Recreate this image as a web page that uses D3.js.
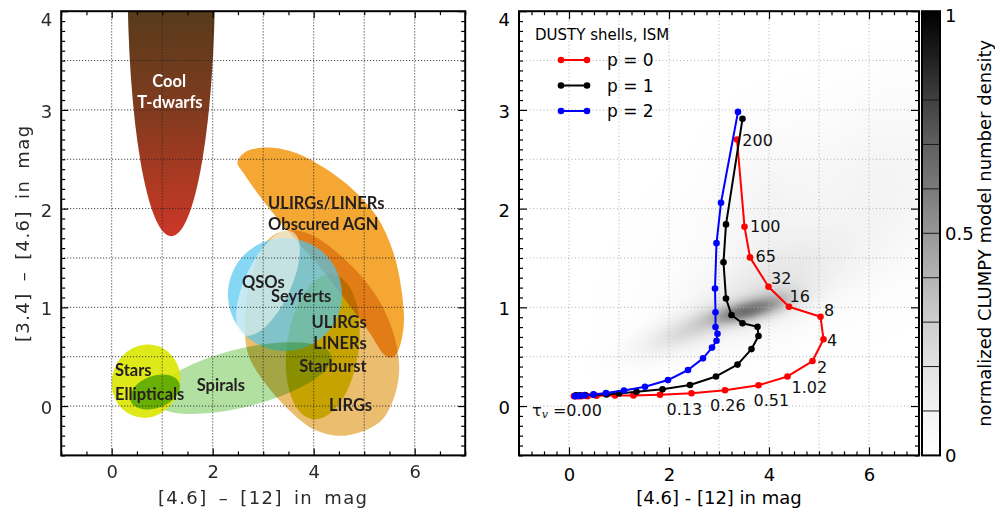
<!DOCTYPE html>
<html>
<head>
<meta charset="utf-8">
<script src="https://cdn.jsdelivr.net/npm/d3@7"></script>
<style>
  html, body { margin: 0; padding: 0; background: #fff; }
  svg { display: block; }
</style>
</head>
<body>
<svg id="chart" width="995" height="514"></svg>
<script>
// ---------------- data ----------------
const xTickValues = [0, 2, 4, 6];
const yTickValues = [0, 1, 2, 3, 4];
const colorbarTicks = [0, 0.5, 1];

// WISE colour-colour regions as ellipses: centre (mag), radii (mag along x / y before rotation), rotation (deg)
const dwarfRegion = { cx: 1.18, cy: 4.32, rx: 0.865, ry: 2.6, rot: 0 };
const starburstRegion = { cx: 4.18, cy: 0.60, rx: 0.713, ry: 0.74, rot: 8 };
const qsoRegion = { cx: 3.43, cy: 1.13, rx: 1.129, ry: 0.572, rot: 0 };
const seyfertRegion = { cx: 3.095, cy: 1.246, rx: 1.129, ry: 0.233, rot: -65 };
const spiralRegion = { cx: 2.58, cy: 0.284, rx: 1.82, ry: 0.294, rot: -14 };
const starRegion = { cx: 0.68, cy: 0.253, rx: 0.673, ry: 0.375, rot: 20 };
const ellipticalRegion = { cx: 0.857, cy: 0.142, rx: 0.515, ry: 0.162, rot: -20 };

// Outlines of the two irregular regions (mag, mag)
const agnOutline = [[2.49,2.47],[2.67,2.58],[3.07,2.62],[3.55,2.58],[4.06,2.46],[4.72,2.22],[5.25,1.92],
  [5.58,1.55],[5.74,1.17],[5.78,0.80],[5.64,0.53],[5.51,0.49],[5.38,0.53],[5.11,0.74],[4.72,1.01],
  [4.12,1.41],[3.53,1.75],[2.94,2.12],[2.61,2.36]];
const lirgOutline = [[3.53,1.78],[3.93,1.74],[4.52,1.53],[5.11,1.21],[5.47,0.89],[5.65,0.59],[5.69,0.33],
  [5.55,0.03],[5.29,-0.17],[4.62,-0.30],[4.02,-0.24],[3.51,-0.04],[3.04,0.23],[2.72,0.50],[2.64,0.74],
  [2.70,1.18],[2.98,1.60],[3.20,1.73]];

// Region labels: text, anchor position (mag), alignment, colour
const regionLabels = [
  ["Cool", 1.137, 3.29, "middle", "#fff"],
  ["T-dwarfs", 1.154, 3.083, "middle", "#fff"],
  ["ULIRGs/LINERs", 3.097, 2.054, "start", "#231f20"],
  ["Obscured AGN", 3.097, 1.844, "start", "#231f20"],
  ["QSOs", 2.58, 1.259, "start", "#231f20"],
  ["Seyferts", 3.155, 1.114, "start", "#231f20"],
  ["ULIRGs", 5.05, 0.854, "end", "#231f20"],
  ["LINERs", 5.05, 0.635, "end", "#231f20"],
  ["Starburst", 5.05, 0.408, "end", "#231f20"],
  ["LIRGs", 4.303, 0.01, "start", "#231f20"],
  ["Stars", 0.065, 0.365, "start", "#231f20"],
  ["Ellipticals", 0.065, 0.122, "start", "#231f20"],
  ["Spirals", 1.683, 0.213, "start", "#231f20"]
];

// DUSTY shell tracks ([4.6]-[12], [3.4]-[4.6]) for increasing optical depth
const trackP0 = [[0.10,0.10],[0.14,0.10],[0.19,0.10],[0.25,0.10],[0.37,0.10],[0.55,0.105],[0.92,0.108],
  [1.29,0.108],[1.82,0.115],[2.45,0.13],[3.12,0.16],[3.79,0.21],[4.37,0.30],[4.87,0.456],[5.09,0.676],
  [5.03,0.905],[4.40,1.006],[3.99,1.209],[3.62,1.506],[3.51,1.817],[3.36,2.70]];
const trackP1 = [[0.14,0.108],[0.22,0.108],[0.32,0.111],[0.49,0.115],[0.75,0.118],[1.0,0.128],[1.35,0.145],
  [1.87,0.169],[2.42,0.213],[2.94,0.30],[3.37,0.42],[3.65,0.577],[3.79,0.709],[3.77,0.804],[3.47,0.838],
  [3.25,0.922],[3.14,1.09],[3.09,1.456],[3.14,1.84],[3.47,2.91]];
const trackP2 = [[0.12,0.10],[0.20,0.103],[0.30,0.108],[0.49,0.118],[0.74,0.132],[1.10,0.157],[1.52,0.196],
  [1.98,0.263],[2.38,0.365],[2.68,0.483],[2.86,0.592],[2.95,0.662],[2.97,0.733],[2.93,0.80],[2.93,0.95],
  [2.92,1.19],[2.95,1.65],[3.04,2.06],[3.38,2.98]];
const trackNames = ["p = 0", "p = 1", "p = 2"];
const trackColors = ["#ff0000", "#000000", "#0000ff"];

// optical depth labels on the p = 0 track: index of point, text
const tauLabels = [[9,"0.13"],[10,"0.26"],[11,"0.51"],[12,"1.02"],[13,"2"],[14,"4"],[15,"8"],
  [16,"16"],[17,"32"],[18,"65"],[19,"100"],[20,"200"]];
// pixel offsets of those labels from their points (left edge, vertical centre)
const tauLabelOffsets = [[-25,16],[-15,15.5],[-5,15.4],[4,11],[4.5,6],[3.5,1],[3.5,-6],
  [0.5,-10],[2.5,-8.4],[5.5,-1.3],[5.5,0],[5.3,0.5]];

// CLUMPY model number density as a sum of Gaussian components:
// centre x, centre y (mag), sigma major (x-mag), sigma minor (y-mag), angle (deg), weight
const densityComponents = [
  [3.45, 0.95, 0.45, 0.075, -12, 0.36],
  [4.05, 1.05, 0.45, 0.085, -15, 0.22],
  [2.40, 0.78, 0.75, 0.110, -22, 0.20],
  [4.00, 1.20, 1.20, 0.250, -25, 0.13],
  [5.00, 1.90, 2.30, 0.600, -30, 0.06],
  [3.90, 2.10, 0.60, 0.500, 0, 0.04],
  [6.50, 2.30, 1.00, 0.600, 0, 0.04]
];

// ---------------- layout ----------------
const svg = d3.select("#chart");
const xL = d3.scaleLinear().domain([-1, 7]).range([61.2, 465.2]);
const yL = d3.scaleLinear().domain([-0.5, 4]).range([455.4, 11.2]);
const xR = d3.scaleLinear().domain([-1, 7]).range([519, 919]);
const yR = yL.copy();
const cbar = { x: 922, w: 18 };
const cScale = d3.scaleLinear().domain([0, 1]).range([455.4, 11.2]);

const defs = svg.append("defs");

// ---------------- left panel ----------------
defs.append("clipPath").attr("id", "clipL").append("rect")
  .attr("x", xL.range()[0]).attr("y", yL.range()[1])
  .attr("width", xL.range()[1] - xL.range()[0]).attr("height", yL.range()[0] - yL.range()[1]);

const dwarfGrad = defs.append("linearGradient").attr("id", "dwarfGrad")
  .attr("gradientUnits", "userSpaceOnUse")
  .attr("x1", 0).attr("x2", 0).attr("y1", yL(4)).attr("y2", yL(1.72));
[[0, "#573b1b"], [0.45, "#823b1f"], [0.8, "#b23923"], [1, "#cc3628"]].forEach(s =>
  dwarfGrad.append("stop").attr("offset", s[0]).attr("stop-color", s[1]));

const gL = svg.append("g").attr("clip-path", "url(#clipL)");

function addEllipse(g, e, xs, ys) {
  const cx = xs(e.cx), cy = ys(e.cy);
  return g.append("ellipse")
    .attr("cx", cx).attr("cy", cy)
    .attr("rx", e.rx * (xs(1) - xs(0)))
    .attr("ry", e.ry * (ys(0) - ys(1)))
    .attr("transform", `rotate(${e.rot},${cx},${cy})`);
}
const outline = d3.line().x(d => xL(d[0])).y(d => yL(d[1])).curve(d3.curveCatmullRomClosed.alpha(0.5));

gL.append("path").attr("d", outline(lirgOutline)).attr("fill", "#ebbd6e");
addEllipse(gL, starburstRegion, xL, yL).attr("fill", "#d7dc00").style("mix-blend-mode", "multiply");
gL.append("path").attr("d", outline(agnOutline)).attr("fill", "#f5a733").style("mix-blend-mode", "multiply");
addEllipse(gL, qsoRegion, xL, yL).attr("fill", "#52c6ee").attr("fill-opacity", 0.7);
addEllipse(gL, seyfertRegion, xL, yL).attr("fill", "#f2f6f4").attr("fill-opacity", 0.6);
addEllipse(gL, spiralRegion, xL, yL).attr("fill", "#b2e0a0").style("mix-blend-mode", "multiply");
addEllipse(gL, starRegion, xL, yL).attr("fill", "#dce600").attr("fill-opacity", 0.9);
addEllipse(gL, ellipticalRegion, xL, yL).attr("fill", "#4ba000").attr("fill-opacity", 0.8);
addEllipse(gL, dwarfRegion, xL, yL).attr("fill", "url(#dwarfGrad)");

// dotted grid
const gridL = svg.append("g").attr("stroke", "#222").attr("stroke-width", 1).attr("stroke-dasharray", "1,2");
d3.range(0, 7).forEach(v => gridL.append("line")
  .attr("x1", xL(v)).attr("x2", xL(v)).attr("y1", yL.range()[0]).attr("y2", yL.range()[1]));
d3.range(0, 4, 0.5).forEach(v => gridL.append("line")
  .attr("y1", yL(v)).attr("y2", yL(v)).attr("x1", xL.range()[0]).attr("x2", xL.range()[1]));

svg.append("g").selectAll("text").data(regionLabels).join("text")
  .attr("x", d => xL(d[1])).attr("y", d => yL(d[2]))
  .attr("text-anchor", d => d[3]).attr("dominant-baseline", "central")
  .attr("fill", d => d[4])
  .style("font-family", "Lato, 'Open Sans', sans-serif").style("font-weight", 700).style("font-size", "16.5px")
  .text(d => d[0]);

// axes with inward ticks on all four sides
function frameAxes(xs, ys, opts) {
  const [x0, x1] = xs.range(), [y0, y1] = ys.range();
  const g = svg.append("g");
  const minorX = d3.range(-1, 7.001, opts.xMinor).filter(v => !xTickValues.includes(+v.toFixed(3)));
  const minorY = d3.range(-0.5, 4.001, 0.1).filter(v => Math.abs(v - Math.round(v)) > 1e-6);
  const style = sel => { sel.select(".domain").remove(); sel.selectAll("line").attr("stroke", "#000").attr("stroke-width", opts.tickW); };
  g.append("g").attr("transform", `translate(0,${y0})`).call(d3.axisBottom(xs).tickValues(minorX).tickSize(-opts.minor).tickFormat("")).call(style);
  g.append("g").attr("transform", `translate(0,${y1})`).call(d3.axisTop(xs).tickValues(minorX).tickSize(-opts.minor).tickFormat("")).call(style);
  g.append("g").attr("transform", `translate(${x0},0)`).call(d3.axisLeft(ys).tickValues(minorY).tickSize(-opts.minor).tickFormat("")).call(style);
  g.append("g").attr("transform", `translate(${x1},0)`).call(d3.axisRight(ys).tickValues(minorY).tickSize(-opts.minor).tickFormat("")).call(style);
  g.append("g").attr("transform", `translate(0,${y1})`).call(d3.axisTop(xs).tickValues(xTickValues).tickSize(-opts.major).tickFormat("")).call(style);
  g.append("g").attr("transform", `translate(${x1},0)`).call(d3.axisRight(ys).tickValues(yTickValues).tickSize(-opts.major).tickFormat("")).call(style);
  const bx = g.append("g").attr("transform", `translate(0,${y0})`)
    .call(d3.axisBottom(xs).tickValues(xTickValues).tickSize(-opts.major).tickPadding(opts.xPad).tickFormat(d3.format("d")))
    .call(style);
  const ly = g.append("g").attr("transform", `translate(${x0},0)`)
    .call(d3.axisLeft(ys).tickValues(yTickValues).tickSize(-opts.major).tickPadding(opts.yPad).tickFormat(d3.format("d")))
    .call(style);
  [bx, ly].forEach(a => a.selectAll("text").attr("fill", opts.textColor)
    .style("font-family", opts.font).style("font-size", opts.fontSize));
  ly.selectAll("text").attr("dy", d => d === 4 ? "0.8em" : "0.42em");
  g.append("rect").attr("x", x0).attr("y", y1).attr("width", x1 - x0).attr("height", y0 - y1)
    .attr("fill", "none").attr("stroke", "#000").attr("stroke-width", opts.frameW);
  return g;
}

frameAxes(xL, yL, { xMinor: 0.5, minor: 4, major: 7, tickW: 1.2, frameW: 2, xPad: 10, yPad: 9,
  textColor: "#2a2a2a", font: "'DejaVu Sans', sans-serif", fontSize: "18px" });

svg.append("text").attr("x", (xL.range()[0] + xL.range()[1]) / 2).attr("y", 497)
  .attr("text-anchor", "middle").attr("dominant-baseline", "central").attr("fill", "#2a2a2a")
  .style("font-family", "'DejaVu Sans', sans-serif").style("font-size", "18px")
  .style("letter-spacing", "1.4px").style("word-spacing", "4px")
  .text("[4.6] – [12] in mag");
svg.append("text").attr("transform", `translate(22,${(yL.range()[0] + yL.range()[1]) / 2}) rotate(-90)`)
  .attr("text-anchor", "middle").attr("dominant-baseline", "central").attr("fill", "#2a2a2a")
  .style("font-family", "'DejaVu Sans', sans-serif").style("font-size", "18px")
  .style("letter-spacing", "1.4px").style("word-spacing", "4px")
  .text("[3.4] – [4.6] in mag");

// ---------------- right panel ----------------
const grey = d3.interpolateGreys;
(function drawDensity() {
  const [x0, x1] = xR.range(), y0 = yR.range()[1], y1 = yR.range()[0];
  const w = Math.round(x1 - x0), h = Math.round(y1 - y0);
  const canvas = document.createElement("canvas");
  canvas.width = w; canvas.height = h;
  const ctx = canvas.getContext("2d");
  const img = ctx.createImageData(w, h);
  const ux = xR(1) - xR(0), uy = yR(0) - yR(1);
  const comps = densityComponents.map(c => ({
    cx: xR(c[0]) - x0, cy: yR(c[1]) - y0, su: c[2] * ux, sv: c[3] * uy,
    c: Math.cos(c[4] * Math.PI / 180), s: Math.sin(c[4] * Math.PI / 180), w: c[5]
  }));
  const lut = d3.range(256).map(i => d3.rgb(grey(i / 255)));
  for (let j = 0; j < h; j++) {
    for (let i = 0; i < w; i++) {
      let v = 0;
      for (const c of comps) {
        const dx = i - c.cx, dy = j - c.cy;
        const u = dx * c.c + dy * c.s, t = -dx * c.s + dy * c.c;
        v += c.w * Math.exp(-0.5 * (u * u / (c.su * c.su) + t * t / (c.sv * c.sv)));
      }
      const col = lut[Math.min(255, Math.round(Math.min(1, v) * 255))];
      const k = (j * w + i) * 4;
      img.data[k] = col.r; img.data[k + 1] = col.g; img.data[k + 2] = col.b; img.data[k + 3] = 255;
    }
  }
  ctx.putImageData(img, 0, 0);
  svg.append("image").attr("x", x0).attr("y", y0).attr("width", w).attr("height", h)
    .attr("href", canvas.toDataURL());
})();

const gridR = svg.append("g").attr("stroke", "#b0b0b0").attr("stroke-width", 1).attr("stroke-dasharray", "1,2.5");
d3.range(0, 7).forEach(v => gridR.append("line")
  .attr("x1", xR(v)).attr("x2", xR(v)).attr("y1", yR.range()[0]).attr("y2", yR.range()[1]));
d3.range(0, 4, 0.5).forEach(v => gridR.append("line")
  .attr("y1", yR(v)).attr("y2", yR(v)).attr("x1", xR.range()[0]).attr("x2", xR.range()[1]));

const trackLine = d3.line().x(d => xR(d[0])).y(d => yR(d[1]));
[trackP0, trackP1, trackP2].forEach((tr, i) => {
  const g = svg.append("g");
  g.append("path").attr("d", trackLine(tr)).attr("fill", "none")
    .attr("stroke", trackColors[i]).attr("stroke-width", 2).attr("stroke-linejoin", "round");
  g.selectAll("circle").data(tr).join("circle")
    .attr("cx", d => xR(d[0])).attr("cy", d => yR(d[1])).attr("r", 3.3).attr("fill", trackColors[i]);
});

const tauG = svg.append("g").style("font-family", "'DejaVu Sans', sans-serif").style("font-size", "16px").attr("fill", "#111");
tauLabels.forEach((t, i) => {
  const p = trackP0[t[0]];
  tauG.append("text").attr("x", xR(p[0]) + tauLabelOffsets[i][0]).attr("y", yR(p[1]) + tauLabelOffsets[i][1])
    .attr("dominant-baseline", "central").text(t[1]);
});
const tau0 = tauG.append("text").attr("x", xR(trackP0[0][0]) - 42).attr("y", yR(trackP0[0][1]) + 14)
  .attr("dominant-baseline", "central");
tau0.append("tspan").text("τ");
tau0.append("tspan").attr("dy", 4).style("font-size", "11px").style("font-style", "italic")
  .style("font-family", "'DejaVu Serif', serif").text("v");
tau0.append("tspan").attr("dy", -4).text(" =0.00");

frameAxes(xR, yR, { xMinor: 0.25, minor: 4, major: 8, tickW: 1.2, frameW: 2, xPad: 13, yPad: 9,
  textColor: "#000", font: "'DejaVu Sans', sans-serif", fontSize: "18px" });

svg.append("text").attr("x", (xR.range()[0] + xR.range()[1]) / 2).attr("y", 497)
  .attr("text-anchor", "middle").attr("dominant-baseline", "central").attr("fill", "#000")
  .style("font-family", "'DejaVu Sans', sans-serif").style("font-size", "18px")
  .text("[4.6] - [12] in mag");

// legend
const leg = svg.append("g").style("font-family", "'DejaVu Sans', sans-serif");
leg.append("text").attr("x", 535).attr("y", 35).attr("dominant-baseline", "central")
  .style("font-size", "15px").text("DUSTY shells, ISM");
trackNames.forEach((name, i) => {
  const y = 60 + i * 25.5;
  leg.append("line").attr("x1", 561).attr("x2", 587).attr("y1", y).attr("y2", y)
    .attr("stroke", trackColors[i]).attr("stroke-width", 2);
  [561, 587].forEach(x => leg.append("circle").attr("cx", x).attr("cy", y).attr("r", 3.3).attr("fill", trackColors[i]));
  leg.append("text").attr("x", 607).attr("y", y).attr("dominant-baseline", "central")
    .style("font-size", "17px").text(name);
});

// ---------------- colour bar ----------------
const cbGrad = defs.append("linearGradient").attr("id", "cbGrad")
  .attr("gradientUnits", "userSpaceOnUse").attr("x1", 0).attr("x2", 0)
  .attr("y1", cScale(0)).attr("y2", cScale(1));
d3.range(0, 1.001, 0.05).forEach(v => cbGrad.append("stop").attr("offset", v).attr("stop-color", grey(v)));
svg.append("rect").attr("x", cbar.x).attr("y", cScale(1)).attr("width", cbar.w)
  .attr("height", cScale(0) - cScale(1)).attr("fill", "url(#cbGrad)");
svg.append("g").selectAll("line").data(d3.range(0.1, 0.95, 0.1)).join("line")
  .attr("x1", cbar.x).attr("x2", cbar.x + cbar.w).attr("y1", d => cScale(d)).attr("y2", d => cScale(d))
  .attr("stroke", "#1a1a1a").attr("stroke-width", 1);
svg.append("rect").attr("x", cbar.x).attr("y", cScale(1)).attr("width", cbar.w)
  .attr("height", cScale(0) - cScale(1)).attr("fill", "none").attr("stroke", "#000").attr("stroke-width", 2);
svg.append("g").selectAll("text").data(colorbarTicks).join("text")
  .attr("x", cbar.x + cbar.w + 5).attr("y", d => cScale(d) + (d === 1 ? 4 : 0))
  .attr("dominant-baseline", "central")
  .style("font-family", "'DejaVu Sans', sans-serif").style("font-size", "18px")
  .text(d => d === 0.5 ? "0.5" : d3.format("d")(d));
svg.append("text").attr("transform", `translate(984,${(cScale(0) + cScale(1)) / 2}) rotate(-90)`)
  .attr("text-anchor", "middle").attr("dominant-baseline", "central")
  .style("font-family", "'DejaVu Sans', sans-serif").style("font-size", "18px")
  .text("normalized CLUMPY model number density");
</script>
</body>
</html>
